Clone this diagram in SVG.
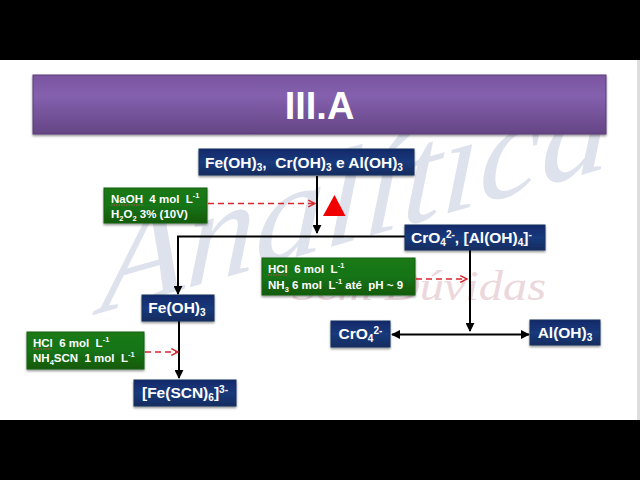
<svg xmlns="http://www.w3.org/2000/svg" width="640" height="480" viewBox="0 0 640 480">
<style>
text{font-family:"Liberation Sans",Arial,sans-serif;font-weight:bold;fill:#fff}
.blue{fill:url(#gb);stroke:#16305f;stroke-width:1;filter:url(#sh)}
.green{fill:url(#gg);stroke:#14600f;stroke-width:1;filter:url(#sh)}
.n{font-size:15.500px}
.g{font-size:11.500px}
.sub{font-size:65%;baseline-shift:-3px}
.sup{font-size:65%;baseline-shift:5px}
.line{stroke:#000;stroke-width:2;fill:none}
.dash{stroke:#d8262c;stroke-width:1.4;stroke-dasharray:6 4;fill:none}
.sq{stroke:#c0504d;stroke-width:1;stroke-dasharray:1.500 1;fill:none}
.wm{font-family:"Liberation Serif",serif;font-style:italic;font-weight:normal}
</style>
<defs>
<linearGradient id="gb" x1="0" y1="0" x2="0" y2="1"><stop offset="0" stop-color="#10296a"/><stop offset="0.5" stop-color="#1a3a7c"/><stop offset="1" stop-color="#122c60"/></linearGradient>
<linearGradient id="gg" x1="0" y1="0" x2="0" y2="1"><stop offset="0" stop-color="#1a7a16"/><stop offset="0.5" stop-color="#187414"/><stop offset="1" stop-color="#115a0e"/></linearGradient>
<linearGradient id="gp" x1="0" y1="0" x2="0" y2="1"><stop offset="0" stop-color="#7a55a0"/><stop offset="0.35" stop-color="#8460ae"/><stop offset="1" stop-color="#654585"/></linearGradient>
<filter id="sh" x="-10%" y="-20%" width="120%" height="150%"><feDropShadow dx="0" dy="1.500" stdDeviation="1" flood-color="#000" flood-opacity="0.45"/></filter>
<marker id="ah" viewBox="0 0 10 10" refX="9" refY="5" markerWidth="4.500" markerHeight="4.500" orient="auto-start-reverse"><path d="M0 0L10 5L0 10z" fill="#000"/></marker>
<marker id="rh" viewBox="0 0 10 10" refX="9" refY="5" markerWidth="6" markerHeight="6" orient="auto"><path d="M1 1L9 5L1 9" fill="none" stroke="#d8262c" stroke-width="1.800"/></marker>
</defs>
<rect width="640" height="480" fill="#fff"/>
<g id="watermark">
<text class="wm" transform="translate(100 313) rotate(-16) skewX(-18)" style="fill:#dde2ec;font-size:130px" textLength="530" lengthAdjust="spacingAndGlyphs">Analítica</text>
<text class="wm" x="292" y="300" style="fill:#ecd8dc;font-size:42px" textLength="254" lengthAdjust="spacingAndGlyphs">Sem Dúvidas</text>
</g>
<rect y="0" width="640" height="60" fill="#000"/>
<rect y="420" width="640" height="60" fill="#000"/>
<rect x="637" y="60" width="3" height="360" fill="#ddd"/>
<g id="title"><rect x="33" y="75" width="573" height="59" fill="url(#gp)" stroke="#5a3d78" filter="url(#sh)"/><text x="319.500" y="119" text-anchor="middle" style="font-size:38px">III.A</text></g>
<g id="connectors">
<path class="line" d="M317 176V233" marker-end="url(#ah)"/>
<path class="line" d="M406 236.500H178V294" marker-end="url(#ah)"/>
<path class="line" d="M470 250V331" marker-end="url(#ah)"/>
<path class="line" d="M392 334.500H529" marker-start="url(#ah)" marker-end="url(#ah)"/>
<path class="line" d="M179 321V378" marker-end="url(#ah)"/>
<path class="dash" d="M208 203.500H315" marker-end="url(#rh)"/>
<path class="dash" d="M416 279H467" marker-end="url(#rh)"/>
<path class="dash" d="M145 352H178" marker-end="url(#rh)"/>
</g>
<polygon id="delta" points="334.500,195 323,216 345.500,216" fill="#f00000"/>
<g id="n1"><rect class="blue" x="199" y="149" width="215" height="26"/><text class="n" x="304" y="168" text-anchor="middle" xml:space="preserve">Fe(OH)<tspan class="sub">3</tspan>,  Cr(OH)<tspan class="sub">3</tspan> e Al(OH)<tspan class="sub">3</tspan></text></g>
<g id="r1"><rect class="green" x="104" y="188" width="103" height="35"/><text class="g" x="111" y="203" xml:space="preserve">NaOH  4 mol  L<tspan class="sup">-1</tspan></text><text class="g" x="111" y="218">H<tspan class="sub">2</tspan>O<tspan class="sub">2</tspan> 3% (10V)</text><path class="sq" d="M111 205H144"/></g>
<g id="n2"><rect class="blue" x="405" y="225" width="140" height="25"/><text class="n" x="411" y="243" xml:space="preserve">CrO<tspan class="sub">4</tspan><tspan class="sup">2-</tspan>, [Al(OH)<tspan class="sub">4</tspan>]<tspan class="sup">-</tspan></text></g>
<g id="r2"><rect class="green" x="262" y="258" width="153" height="37"/><text class="g" x="268" y="273" xml:space="preserve">HCl  6 mol  L<tspan class="sup">-1</tspan></text><text class="g" x="268" y="289" xml:space="preserve">NH<tspan class="sub">3</tspan> 6 mol  L<tspan class="sup">-1</tspan> até  pH ~ 9</text><path class="sq" d="M268 275H288"/></g>
<g id="n3"><rect class="blue" x="142" y="295" width="72" height="26"/><text class="n" x="177" y="313" text-anchor="middle">Fe(OH)<tspan class="sub">3</tspan></text></g>
<g id="n4"><rect class="blue" x="331" y="321" width="59" height="26"/><text class="n" x="360.500" y="339" text-anchor="middle">CrO<tspan class="sub">4</tspan><tspan class="sup">2-</tspan></text></g>
<g id="n5"><rect class="blue" x="530" y="320" width="70" height="25"/><text class="n" x="565" y="338" text-anchor="middle">Al(OH)<tspan class="sub">3</tspan></text></g>
<g id="r3"><rect class="green" x="27" y="332" width="117" height="37"/><text class="g" x="33" y="347" xml:space="preserve">HCl  6 mol  L<tspan class="sup">-1</tspan></text><text class="g" x="33" y="362" xml:space="preserve">NH<tspan class="sub">4</tspan>SCN  1 mol  L<tspan class="sup">-1</tspan></text><path class="sq" d="M33 349H53"/></g>
<g id="n6"><rect class="blue" x="134" y="380" width="102" height="26"/><text class="n" x="185" y="398" text-anchor="middle">[Fe(SCN)<tspan class="sub">6</tspan>]<tspan class="sup">3-</tspan></text></g>
</svg>
